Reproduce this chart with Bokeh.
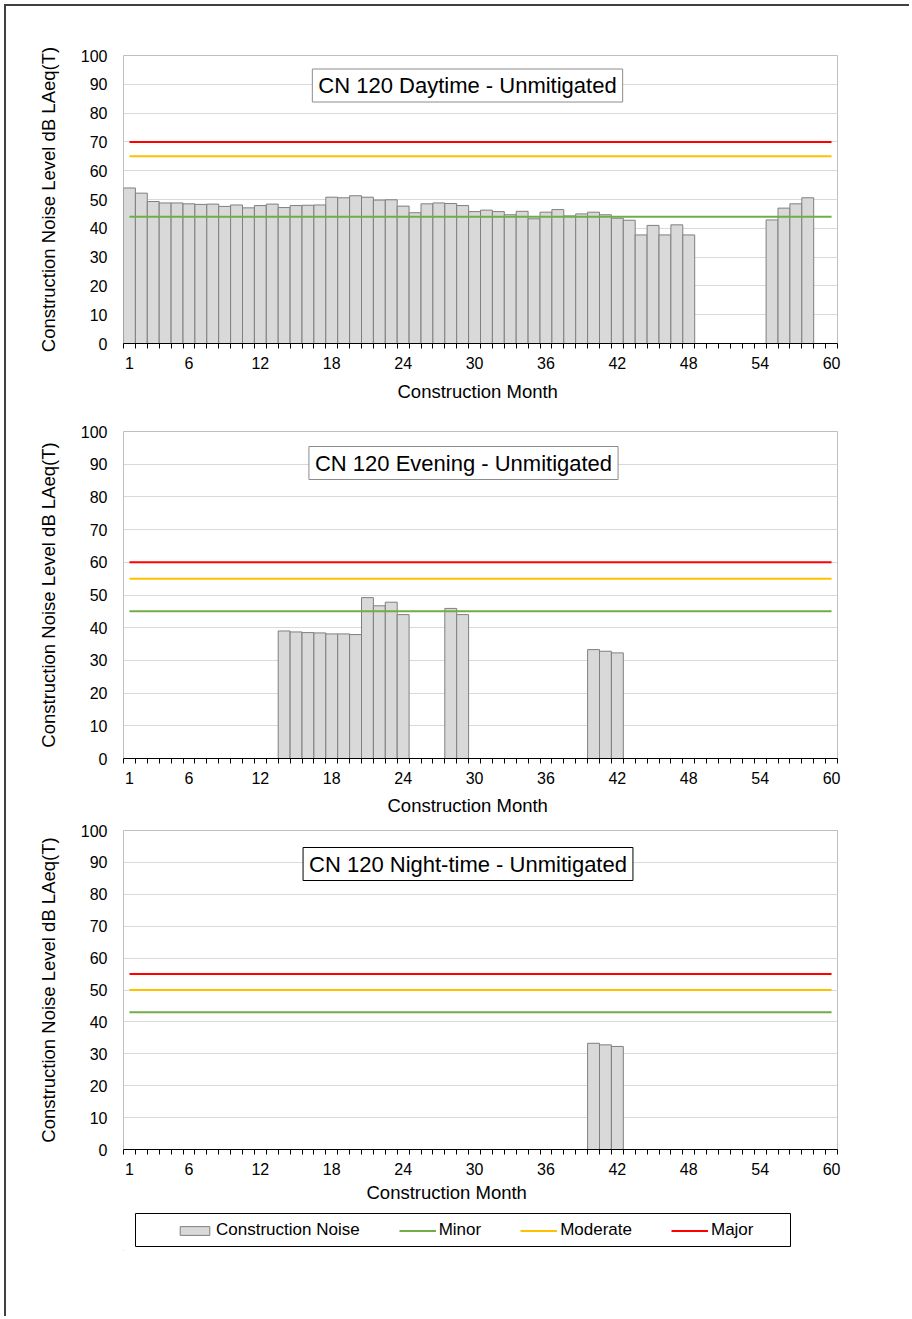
from bokeh.plotting import figure
from bokeh.models import (Range1d, FixedTicker, Label, Legend, LegendItem,
                          BoxAnnotation, Title)
from bokeh.layouts import column
from bokeh.embed import file_html
from bokeh.resources import INLINE

# ---------------- data ----------------
months = list(range(1, 61))
month_tick_labels = [1, 6, 12, 18, 24, 30, 36, 42, 48, 54, 60]
level_ticks = [0, 10, 20, 30, 40, 50, 60, 70, 80, 90, 100]

day_noise = [54.0, 52.2, 49.3, 48.8, 48.8, 48.5, 48.3, 48.4, 47.6, 48.1,
             47.1, 47.9, 48.4, 47.2, 47.9, 48.0, 48.1, 50.8, 50.6, 51.3,
             50.8, 49.8, 49.9, 47.7, 45.4, 48.5, 48.8, 48.6, 47.9, 45.8,
             46.3, 45.8, 44.7, 45.9, 43.3, 45.6, 46.5, 44.3, 45.0, 45.6,
             44.7, 43.5, 42.8, 37.7, 41.0, 37.7, 41.2, 37.7, None, None,
             None, None, None, None, 42.9, 47.0, 48.5, 50.6, None, None]

evening_noise = ([None] * 13
                 + [39.0, 38.7, 38.5, 38.4, 38.1, 38.1, 37.9, 49.2, 46.7, 47.8, 44.0]
                 + [None] * 3
                 + [45.9, 44.0]
                 + [None] * 10
                 + [33.3, 32.8, 32.3]
                 + [None] * 18)

night_noise = [None] * 39 + [33.3, 32.8, 32.3] + [None] * 18

# thresholds: minor, moderate, major
day_limits = [44, 65, 70]
evening_limits = [45, 55, 60]
night_limits = [43, 50, 55]

limit_names = ["Minor", "Moderate", "Major"]
limit_colors = ["#70ad47", "#ffc000", "#ff0000"]

FONT = "Liberation Sans"
BAR_FILL = "#d9d9d9"
BAR_LINE = "#7f7f7f"
FRAME_W = 714
BORDER_L = 117
BORDER_R = 72


def make_chart(values, limits, title, title_pos, title_border, frame_h,
               top, bottom, xtitle_offset, xtitle_standoff):
    p = figure(frame_width=FRAME_W, frame_height=frame_h,
               min_border_left=BORDER_L, min_border_right=BORDER_R,
               min_border_top=top, min_border_bottom=bottom,
               x_range=Range1d(0.5, 60.5), y_range=Range1d(0, 100),
               output_backend="svg", toolbar_location=None)
    p.background_fill_color = "white"
    p.border_fill_color = "white"
    p.outline_line_color = "#bfbfbf"
    p.outline_line_width = 1

    xs = [m for m, v in zip(months, values) if v is not None]
    vs = [v for v in values if v is not None]
    p.vbar(x=xs, top=vs, bottom=0, width=1, fill_color=BAR_FILL,
           line_color=BAR_LINE, line_width=1)

    for val, col in zip(limits, limit_colors):
        p.line(x=[months[0], months[-1]], y=[val, val], line_color=col,
               line_width=2)

    p.xgrid.visible = False
    p.ygrid.ticker = FixedTicker(ticks=level_ticks)
    p.ygrid.grid_line_color = "#d9d9d9"
    p.ygrid.grid_line_width = 1

    ya = p.yaxis[0]
    ya.ticker = FixedTicker(ticks=level_ticks)
    ya.axis_line_color = None
    ya.major_tick_line_color = None
    ya.minor_tick_line_color = None
    ya.major_tick_out = 0
    ya.major_label_standoff = 16
    ya.major_label_text_font = FONT
    ya.major_label_text_font_size = "16px"
    ya.major_label_text_color = "#000000"
    ya.axis_label = "Construction Noise Level dB LAeq(T)"
    ya.axis_label_text_font = FONT
    ya.axis_label_text_font_size = "18.5px"
    ya.axis_label_text_font_style = "normal"
    ya.axis_label_text_color = "#000000"
    ya.axis_label_standoff = 19

    xa = p.xaxis[0]
    xa.ticker = FixedTicker(ticks=month_tick_labels,
                            minor_ticks=[m - 0.5 for m in months] + [months[-1] + 0.5])
    xa.axis_line_color = "#000000"
    xa.axis_line_width = 1
    xa.major_tick_out = 0
    xa.major_tick_in = 0
    xa.major_tick_line_color = None
    xa.minor_tick_out = 5
    xa.minor_tick_in = 0
    xa.minor_tick_line_color = "#000000"
    xa.major_label_standoff = 8
    xa.major_label_text_font = FONT
    xa.major_label_text_font_size = "16px"
    xa.major_label_text_color = "#000000"

    # x-axis title, placed off-centre as in the original
    xt = Title(text="Construction Month", align="left", offset=xtitle_offset,
               standoff=xtitle_standoff, text_font=FONT,
               text_font_size="18.5px", text_font_style="normal",
               text_color="#000000")
    p.add_layout(xt, "below")

    lab = Label(x=title_pos[0], y=title_pos[1], x_units="screen", y_units="screen",
                text=title, text_font=FONT, text_font_size="22px",
                text_align="center", text_baseline="middle",
                text_color="#000000",
                background_fill_color="white", background_fill_alpha=1.0,
                border_line_color=title_border, border_line_width=1,
                padding=(6, 4))
    p.add_layout(lab)
    return p


p1 = make_chart(day_noise, day_limits, "CN 120 Daytime - Unmitigated",
                (344, 258), "#8c8c8c", 288, 49, 62, 274, 14)
p2 = make_chart(evening_noise, evening_limits, "CN 120 Evening - Unmitigated",
                (340, 295.5), "#8c8c8c", 327, 23, 62, 264, 13)
p3 = make_chart(night_noise, night_limits, "CN 120 Night-time - Unmitigated",
                (344.5, 285.5), "#000000", 319, 8, 56, 243, 4)

# legend figure: pixel-based ranges; dummy renderers sit outside the visible range
LEG_H = 41
lf = figure(frame_width=FRAME_W, frame_height=LEG_H,
            min_border_left=BORDER_L, min_border_right=BORDER_R,
            min_border_top=4, min_border_bottom=66,
            x_range=Range1d(0, FRAME_W), y_range=Range1d(0, LEG_H),
            output_backend="svg", toolbar_location=None)
lf.axis.visible = False
lf.grid.visible = False
lf.outline_line_color = None
lf.background_fill_color = "white"
lf.border_fill_color = "white"

lf.add_layout(BoxAnnotation(left=12, right=667, bottom=4, top=37,
                            fill_alpha=0, line_color="#000000", line_width=1,
                            line_alpha=1))

r_bar = lf.vbar(x=[-100], top=[-50], bottom=[-60], width=1,
                fill_color=BAR_FILL, line_color=BAR_LINE)
items = [LegendItem(label="Construction Noise", renderers=[r_bar])]
for name, col in zip(limit_names, limit_colors):
    r = lf.line(x=[-100, -90], y=[-50, -50], line_color=col, line_width=2)
    items.append(LegendItem(label=name, renderers=[r]))

leg = Legend(items=items, orientation="horizontal", location=(53, 10),
             border_line_color=None, background_fill_alpha=0,
             label_text_font=FONT, label_text_font_size="17px",
             label_text_color="#000000",
             glyph_width=37, glyph_height=11, label_standoff=3,
             spacing=39, padding=0, margin=0)
lf.add_layout(leg, "center")

layout = column(p1, p2, p3, lf, spacing=0, margin=(4, 0, 0, 4),
                styles={"border-top": "2px solid #404040",
                        "border-left": "2px solid #404040"})

open("out.html", "w").write(file_html(layout, INLINE))
